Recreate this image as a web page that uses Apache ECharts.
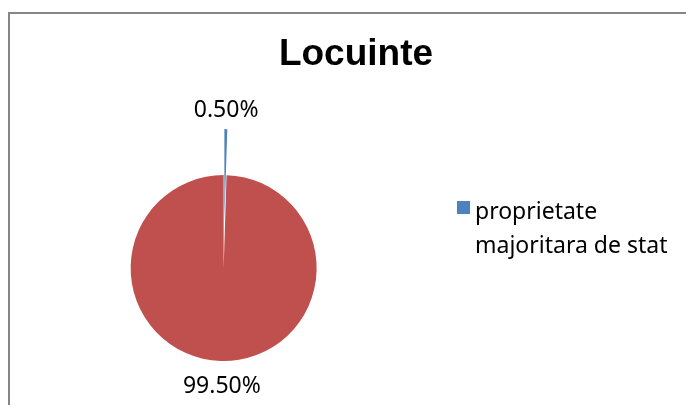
<!DOCTYPE html>
<html>
<head>
<meta charset="utf-8">
<script src="https://cdn.jsdelivr.net/npm/echarts@6/dist/echarts.min.js"></script>
<style>
html,body{margin:0;padding:0;background:#fff;}
#chart{width:686px;height:405px;}
</style>
</head>
<body>
<div id="chart"></div>
<script>
var titleText = 'Locuinte';
var categories = ['proprietate majoritara de stat', ''];
var values = [0.5, 99.5];
var colors = ['#4F81BD', '#C0504D'];

var chart = echarts.init(document.getElementById('chart'), null, {renderer: 'canvas'});
var seriesData = categories.map(function (c, i) {
  return {
    name: c,
    value: values[i],
    selected: i === 0,
    itemStyle: {color: colors[i]}
  };
});

chart.setOption({
  animation: false,
  backgroundColor: '#fff',
  graphic: [{
    type: 'rect',
    shape: {x: 9, y: 13, width: 720, height: 430},
    style: {fill: 'none', stroke: '#868686', lineWidth: 2},
    silent: true
  }],
  title: {
    text: titleText,
    left: 351,
    textAlign: 'center',
    top: 31,
    textStyle: {fontFamily: 'Liberation Sans, Arial', fontSize: 37, fontWeight: 'bold', color: '#000'}
  },
  legend: {
    orient: 'vertical',
    left: 452,
    top: 190,
    data: [{name: categories[0], icon: 'path://M0,0L13,0L13,13L0,13Z M0,56L0.001,56L0,56.001Z'}],
    itemWidth: 13,
    itemHeight: 56,
    itemGap: 6,
    selectedMode: false,
    textStyle: {
      fontFamily: 'Noto Sans',
      fontSize: 23,
      color: '#000',
      width: 205,
      overflow: 'break',
      lineHeight: 34
    }
  },
  series: [{
    type: 'pie',
    center: ['32.6%', '66.2%'],
    radius: 93,
    startAngle: 90,
    clockwise: true,
    selectedMode: 'single',
    selectedOffset: 46,
    avoidLabelOverlap: false,
    silent: true,
    data: seriesData,
    itemStyle: {borderWidth: 0},
    label: {
      show: true,
      position: 'outside',
      fontFamily: 'Noto Sans',
      fontSize: 23,
      color: '#000',
      formatter: function (p) { return p.value.toFixed(2) + '%'; }
    },
    labelLine: {show: false, length: 19, length2: 0},
    labelLayout: function (p) {
      var w = p.labelRect.width;
      var dx = p.align === 'left' ? -w / 2 - 5 : (p.align === 'right' ? w / 2 + 5 : 0);
      var dy = p.dataIndex === 1 ? 6 : 0;
      return {dx: dx, dy: dy};
    },
    emphasis: {disabled: true}
  }]
});
</script>
</body>
</html>
